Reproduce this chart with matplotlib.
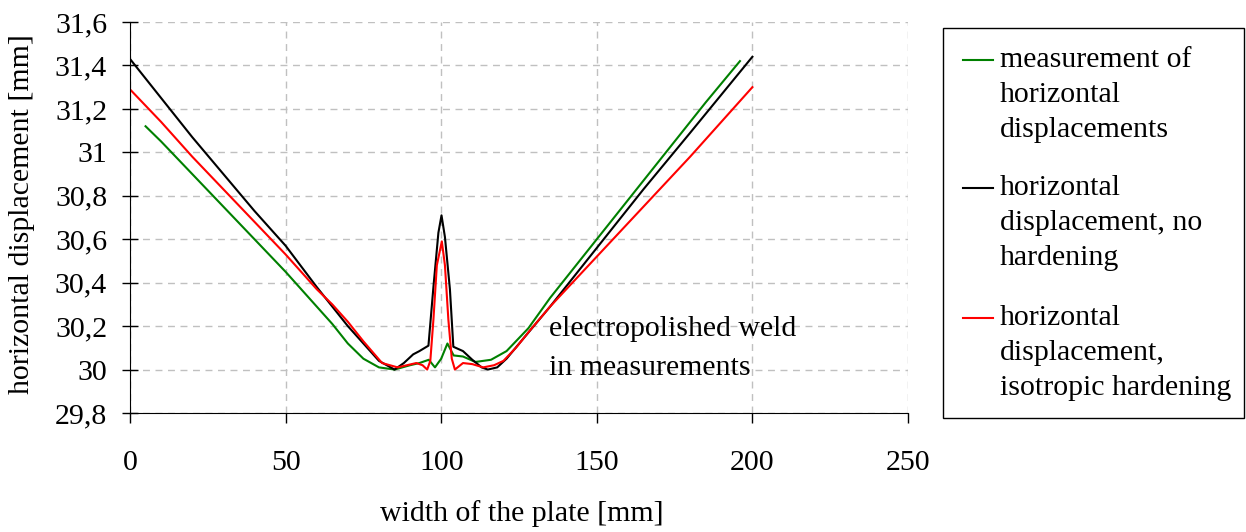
import matplotlib.pyplot as plt
from matplotlib.ticker import FuncFormatter
from matplotlib.patches import Rectangle
from matplotlib.lines import Line2D

# 測定値 (緑)
meas_x = [5, 10, 20, 30, 40, 50, 60, 65, 70, 75, 80, 85, 90, 93, 96, 98, 100, 102,
          104, 107, 111, 116, 121, 128, 135, 145, 155, 165, 175, 185, 196]
meas_y = [31.12, 31.05, 30.90, 30.75, 30.60, 30.45, 30.29, 30.21, 30.12, 30.05, 30.01,
          30.00, 30.02, 30.03, 30.045, 30.01, 30.05, 30.12, 30.065, 30.06, 30.035,
          30.045, 30.085, 30.19, 30.33, 30.51, 30.69, 30.87, 31.05, 31.23, 31.42]

# 硬化なし (黒)
nohard_x = [0, 10, 20, 30, 40, 50, 60, 65, 70, 75, 80, 85, 88, 91, 93, 95.9, 97.5,
            99.1, 100.1, 101.2, 102.8, 103.9, 107, 110, 113, 115, 118, 121, 128, 135,
            150, 165, 180, 200]
nohard_y = [31.43, 31.25, 31.07, 30.90, 30.73, 30.57, 30.38, 30.29, 30.20, 30.12, 30.04,
            30.00, 30.03, 30.07, 30.085, 30.11, 30.38, 30.63, 30.71, 30.61, 30.37, 30.105,
            30.085, 30.045, 30.01, 30.00, 30.01, 30.05, 30.17, 30.29, 30.56, 30.83,
            31.09, 31.44]

# 等方硬化 (赤)
iso_x = [0, 10, 20, 30, 40, 50, 60, 65, 70, 75, 81, 86, 89, 92, 94, 95.5, 96.5, 97.5,
         98.6, 100.2, 101.2, 102.3, 103.4, 104.4, 107, 110, 113.5, 117, 120, 124, 128.5,
         135, 150, 165, 180, 200]
iso_y = [31.29, 31.14, 30.98, 30.83, 30.68, 30.53, 30.37, 30.30, 30.22, 30.13, 30.03,
         30.01, 30.02, 30.03, 30.02, 30.00, 30.04, 30.23, 30.48, 30.59, 30.48, 30.23,
         30.05, 30.00, 30.03, 30.025, 30.01, 30.02, 30.04, 30.10, 30.18, 30.29, 30.52,
         30.75, 30.98, 31.30]

labels = [['measurement of', 'horizontal', 'displacements'],
          ['horizontal', 'displacement, no', 'hardening'],
          ['horizontal', 'displacement,', 'isotropic hardening']]
colors = ['#008000', 'black', '#ff0000']

plt.rcParams['font.family'] = ['Liberation Serif', 'DejaVu Serif']
plt.rcParams['font.size'] = 21.5

W, H = 1246, 532
fig = plt.figure(figsize=(W / 100, H / 100), dpi=100)
ax = fig.add_axes([130 / W, 119 / H, 778 / W, 391 / H])

ax.plot(meas_x, meas_y, color=colors[0], lw=1.5)
ax.plot(nohard_x, nohard_y, color=colors[1], lw=1.5)
ax.plot(iso_x, iso_y, color=colors[2], lw=1.5)

ax.set_xlim(0, 250)
ax.set_ylim(29.8, 31.6)
ax.set_xticks([0, 50, 100, 150, 200, 250])
ax.set_yticks([29.8, 30.0, 30.2, 30.4, 30.6, 30.8, 31.0, 31.2, 31.4, 31.6])
ax.yaxis.set_major_formatter(FuncFormatter(lambda v, p: ('%.1f' % v).rstrip('0').rstrip('.').replace('.', ',')))

ax.spines['right'].set_visible(False)  # 右側の枠線を非表示
ax.spines['top'].set_visible(False)  # 上側の枠線を非表示
ax.grid(True, color='#c0c0c0', linestyle=(0, (5, 4)), lw=1)
ax.tick_params(axis='y', direction='inout', length=11, width=1, pad=11)
ax.tick_params(axis='x', direction='out', length=7, width=1, pad=20)

ax.text(134.5, 30.097, 'electropolished weld\nin measurements', ha='left', va='center',
        linespacing=1.65)

ax.set_xlabel('width of the plate [mm]', va='top')
ax.xaxis.set_label_coords(0.504, -0.222)
ax.set_ylabel('horizontal displacement [mm]', va='center')
ax.yaxis.set_label_coords(-0.139, 0.51)

# 凡例 (手描き)
fig.add_artist(Rectangle((943 / W, 1 - 418 / H), 301 / W, 390 / H, transform=fig.transFigure,
                         fill=False, edgecolor='black', lw=1))
first_rows = [60, 188, 318]
for lab, c, y0 in zip(labels, colors, first_rows):
    fig.add_artist(Line2D([963 / W, 993 / W], [1 - y0 / H, 1 - y0 / H],
                          transform=fig.transFigure, color=c, lw=1.5))
    for k, line in enumerate(lab):
        fig.text(1000 / W, 1 - (y0 + 35 * k) / H, line, ha='left', va='center')

fig.savefig('out.png', dpi=100)
